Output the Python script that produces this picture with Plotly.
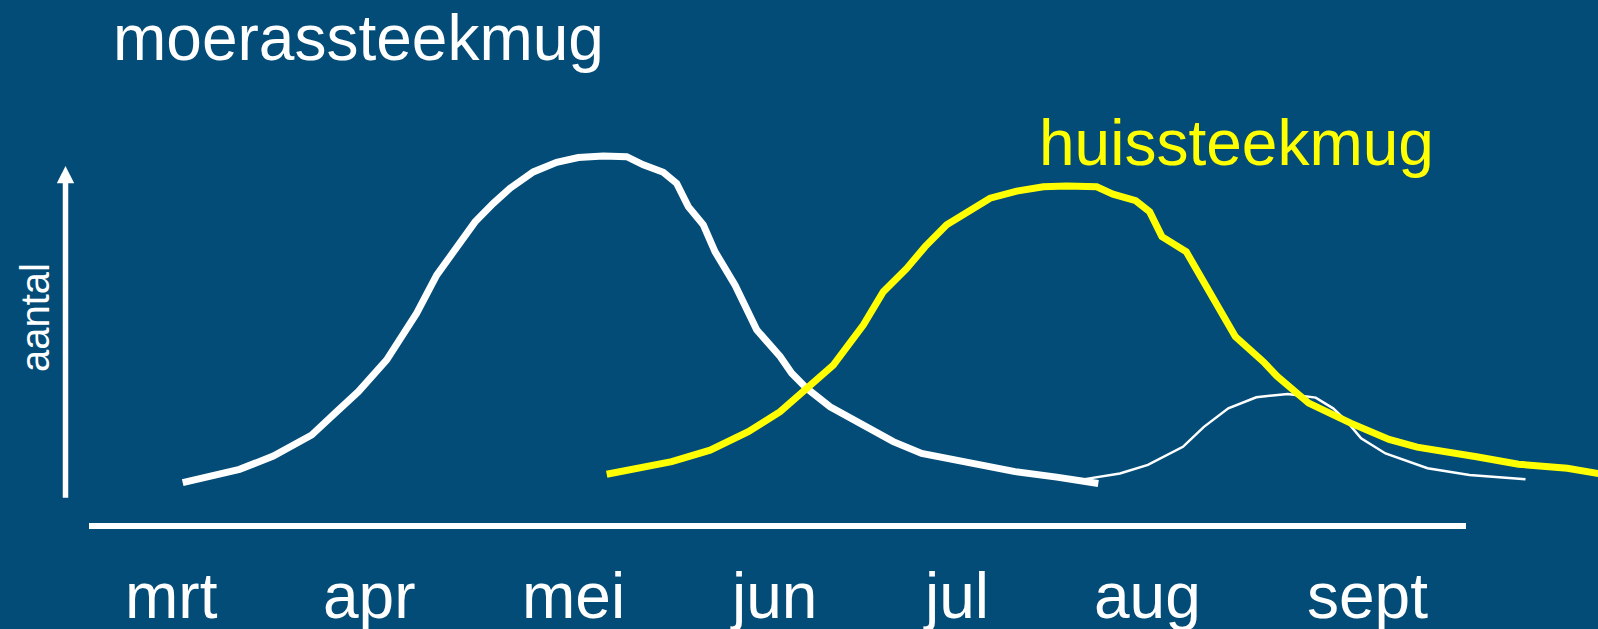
import plotly.graph_objects as go

# ---- data (x in months after start of March, y = relative abundance "aantal") ----
months = ["mrt", "apr", "mei", "jun", "jul", "aug", "sept"]
month_pos = [0.0, 0.99, 2.01, 3.01, 3.92, 4.88, 5.98]

moeras_x = [0.056, 0.34, 0.509, 0.701, 0.818, 0.934, 1.076, 1.226, 1.326, 1.426, 1.518,
            1.609, 1.693, 1.809, 1.926, 2.034, 2.159, 2.276, 2.359, 2.459, 2.526, 2.584,
            2.659, 2.718, 2.818, 2.926, 3.043, 3.101, 3.176, 3.293, 3.409, 3.609, 3.751,
            4.026, 4.218, 4.426, 4.634]
moeras_y = [11.7, 15.3, 18.9, 24.6, 30.5, 36.3, 44.9, 57.5, 67.8, 75.5, 82.2,
            87.2, 91.3, 95.7, 98.3, 99.6, 100.0, 99.8, 97.6, 95.6, 92.6, 86.3,
            81.4, 74.1, 65.1, 53.0, 45.8, 41.3, 37.2, 32.2, 28.6, 22.8, 19.6,
            16.9, 14.7, 13.2, 11.5]

moeras2_x = [4.559, 4.742, 4.882, 5.057, 5.162, 5.284, 5.424, 5.581, 5.721, 5.808,
             5.878, 5.948, 6.07, 6.28, 6.49, 6.77]
moeras2_y = [12.6, 14.2, 16.5, 21.4, 26.8, 31.8, 34.8, 35.7, 34.7, 31.8,
             28.2, 23.7, 19.6, 15.6, 13.8, 12.6]

huis_x = [2.176, 2.501, 2.693, 2.884, 3.043, 3.176, 3.309, 3.459, 3.559, 3.676, 3.768,
          3.876, 3.976, 4.093, 4.226, 4.359, 4.476, 4.626, 4.707, 4.821, 4.891, 4.952,
          5.074, 5.127, 5.214, 5.319, 5.459, 5.529, 5.686, 5.896, 6.088, 6.228, 6.525,
          6.735, 6.979, 7.14]
huis_y = [14.0, 17.4, 20.5, 25.5, 30.9, 37.2, 43.5, 54.3, 63.3, 69.6, 75.5,
          81.4, 84.9, 88.6, 90.5, 91.7, 91.9, 91.7, 89.7, 87.9, 84.9, 78.2,
          74.1, 69.2, 61.5, 51.2, 44.4, 40.4, 33.2, 27.8, 23.4, 21.3, 18.7,
          16.7, 15.6, 14.1]

# ---- layout constants ----
W, H = 1598, 629
BG = "#034C77"
X_RANGE = [-0.8575, 7.1325]
Y_RANGE = [-27.84, 142.16]
FONT = "Liberation Sans, Arial, sans-serif"

# axis decorations (data units)
H_AXIS_X = (-0.4125, 6.4725)
H_AXIS_Y = 0.0
V_AXIS_X = -0.53
V_AXIS_Y = (7.6, 93.0)
HEAD_BASE_Y, HEAD_TIP_Y, HEAD_HALF_W = 92.6, 97.3, 0.0435

fig = go.Figure()

fig.add_trace(go.Scatter(x=moeras_x, y=moeras_y, mode="lines",
                         line=dict(color="white", width=7), hoverinfo="skip"))
fig.add_trace(go.Scatter(x=moeras2_x, y=moeras2_y, mode="lines",
                         line=dict(color="white", width=2.5), hoverinfo="skip"))
fig.add_trace(go.Scatter(x=huis_x, y=huis_y, mode="lines",
                         line=dict(color="#FFFF00", width=7), hoverinfo="skip"))

# horizontal axis line
fig.add_shape(type="line", xref="x", yref="y",
              x0=H_AXIS_X[0], x1=H_AXIS_X[1], y0=H_AXIS_Y, y1=H_AXIS_Y,
              line=dict(color="white", width=6), layer="below")
# vertical arrow shaft
fig.add_shape(type="line", xref="x", yref="y",
              x0=V_AXIS_X, x1=V_AXIS_X, y0=V_AXIS_Y[0], y1=V_AXIS_Y[1],
              line=dict(color="white", width=5.5), layer="below")
# arrow head
fig.add_shape(type="path", xref="x", yref="y",
              path=f"M {V_AXIS_X - HEAD_HALF_W} {HEAD_BASE_Y} L {V_AXIS_X + HEAD_HALF_W} {HEAD_BASE_Y} "
                   f"L {V_AXIS_X} {HEAD_TIP_Y} Z",
              fillcolor="white", line=dict(color="white", width=0))

# month labels
for name, pos in zip(months, month_pos):
    fig.add_annotation(x=pos, y=-18.9, xref="x", yref="y", text=name, showarrow=False,
                       xanchor="center", yanchor="middle",
                       font=dict(family=FONT, size=64, color="white"))

# y-axis label
fig.add_annotation(x=35 / W, y=1 - 318 / H, xref="paper", yref="paper", text="aantal",
                   showarrow=False, textangle=-90, xanchor="center", yanchor="middle",
                   font=dict(family=FONT, size=40, color="white"))

# species labels
fig.add_annotation(x=111 / W, y=1 - 38 / H, xref="paper", yref="paper", text="moerassteekmug",
                   showarrow=False, xanchor="left", yanchor="middle",
                   font=dict(family=FONT, size=64, color="white"))
fig.add_annotation(x=1037 / W, y=1 - 143 / H, xref="paper", yref="paper", text="huissteekmug",
                   showarrow=False, xanchor="left", yanchor="middle",
                   font=dict(family=FONT, size=64, color="#FFFF00"))

fig.update_layout(
    width=W, height=H,
    margin=dict(l=0, r=0, t=0, b=0),
    paper_bgcolor=BG, plot_bgcolor=BG,
    showlegend=False,
    xaxis=dict(range=X_RANGE, visible=False, fixedrange=True),
    yaxis=dict(range=Y_RANGE, visible=False, fixedrange=True),
)

fig.write_html("out.html", config={"displayModeBar": False},
               post_script="document.body.style.margin='0';document.body.style.overflow='hidden';"
                           "document.body.style.background='" + BG + "';")
